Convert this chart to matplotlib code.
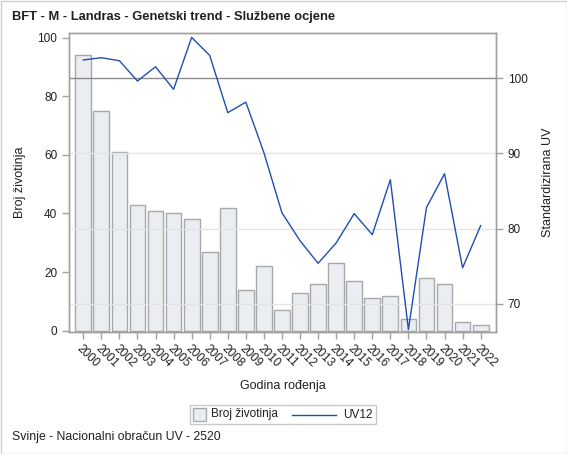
import matplotlib
matplotlib.use("Agg")
import matplotlib.pyplot as plt
from matplotlib.patches import Rectangle
from matplotlib.lines import Line2D
from matplotlib.offsetbox import HPacker, TextArea, DrawingArea, AnchoredOffsetbox

plt.rcParams['font.family'] = ['Liberation Sans', 'DejaVu Sans']

years = [str(y) for y in range(2000, 2023)]
broj = [94, 75, 61, 43, 41, 40, 38, 27, 42, 14, 22, 7, 13, 16, 23, 17, 11, 12, 4, 18, 16, 3, 2]
uv12 = [102.4, 102.7, 102.3, 99.6, 101.5, 98.5, 105.4, 103.0, 95.4, 96.8, 90.1, 82.1, 78.4,
        75.4, 78.1, 82.0, 79.2, 86.5, 66.6, 82.8, 87.3, 74.8, 80.4]
left_ticks = [0, 20, 40, 60, 80, 100]
right_ticks = [70, 80, 90, 100]
legend_labels = ["Broj životinja", "UV12"]

title = "BFT - M - Landras - Genetski trend - Službene ocjene"
footnote = "Svinje - Nacionalni obračun UV - 2520"

BAR_FC, BAR_EC, LINE_C, TXT = '#EAEDF2', '#A8A8A8', '#1F4FAF', '#202020'

W, H = 567, 454
fig = plt.figure(figsize=(W / 100, H / 100), dpi=100)
fig.patch.set_facecolor('white')

ax1 = fig.add_axes([69 / W, 1 - 332 / H, (496 - 69) / W, (332 - 33) / H])
ax2 = ax1.twinx()

x = list(range(len(years)))
ax1.bar(x, broj, width=0.87, color=BAR_FC, edgecolor=BAR_EC, linewidth=1.0, zorder=2)
ax1.set_xlim(-0.79, len(years) - 1 + 0.85)
ax1.set_ylim(-0.45, 101.6)
ax1.set_yticks(left_ticks)
ax1.set_xticks(x)
ax1.set_xticklabels(years, rotation=-45, ha='left', va='top', rotation_mode='anchor')

ax2.set_ylim(66.28, 105.98)
ax2.set_yticks(right_ticks)
for v in right_ticks[:-1]:
    ax2.axhline(v, color='#E4E4E4', linewidth=1.0, zorder=0)
ax2.axhline(100, color='#8C8C8C', linewidth=1.0, zorder=1)
ax2.plot(x, uv12, color=LINE_C, linewidth=1.0, zorder=3)

for ax in (ax1, ax2):
    for s in ax.spines.values():
        s.set_color('#A0A0A0')
        s.set_linewidth(1.0)
    ax.tick_params(colors='#A0A0A0', labelcolor=TXT, labelsize=8.5, length=5, width=1)
ax1.tick_params(axis='x', pad=3)

ax1.set_ylabel("Broj životinja", fontsize=9, color=TXT, labelpad=8)
ax2.set_ylabel("Standardizirana UV", fontsize=9, color=TXT, labelpad=10)
fig.text(282.5 / W, 1 - 386.5 / H, "Godina rođenja", ha='center', va='center', fontsize=9, color=TXT)

fig.text(12 / W, 1 - 17 / H, title, ha='left', va='center', fontsize=9.25, fontweight='bold', color=TXT)
fig.text(12 / W, 1 - 437 / H, footnote, ha='left', va='center', fontsize=8.8, color=TXT)

# custom legend: square patch + text, long line + text
sq = DrawingArea(9, 9, 0, 0)
sq.add_artist(Rectangle((0, 0), 9, 9, facecolor=BAR_FC, edgecolor=BAR_EC, linewidth=1.0))
ln = DrawingArea(32, 9, 0, 0)
ln.add_artist(Line2D([0, 32], [4.5, 4.5], color=LINE_C, linewidth=1.0))
t1 = TextArea(legend_labels[0], textprops=dict(fontsize=8.5, color=TXT))
t2 = TextArea(legend_labels[1], textprops=dict(fontsize=8.5, color=TXT))
box = HPacker(children=[HPacker(children=[sq, t1], sep=4, align='center'),
                        HPacker(children=[ln, t2], sep=5, align='center')],
              sep=10, align='center')
anc = AnchoredOffsetbox(loc='center', child=box, pad=0.2, borderpad=0, frameon=True,
                        bbox_to_anchor=(283 / W, 1 - 414.5 / H), bbox_transform=fig.transFigure)
anc.patch.set_edgecolor('#C8C8C8')
anc.patch.set_linewidth(1.0)
anc.patch.set_boxstyle('square', pad=0)
fig.add_artist(anc)

fig.patches.append(Rectangle((0.5 / W, 0.5 / H), 1 - 1 / W, 1 - 1 / H, transform=fig.transFigure,
                             fill=False, edgecolor='#D0D0D0', linewidth=1.0))

fig.savefig("out.png", dpi=100)
